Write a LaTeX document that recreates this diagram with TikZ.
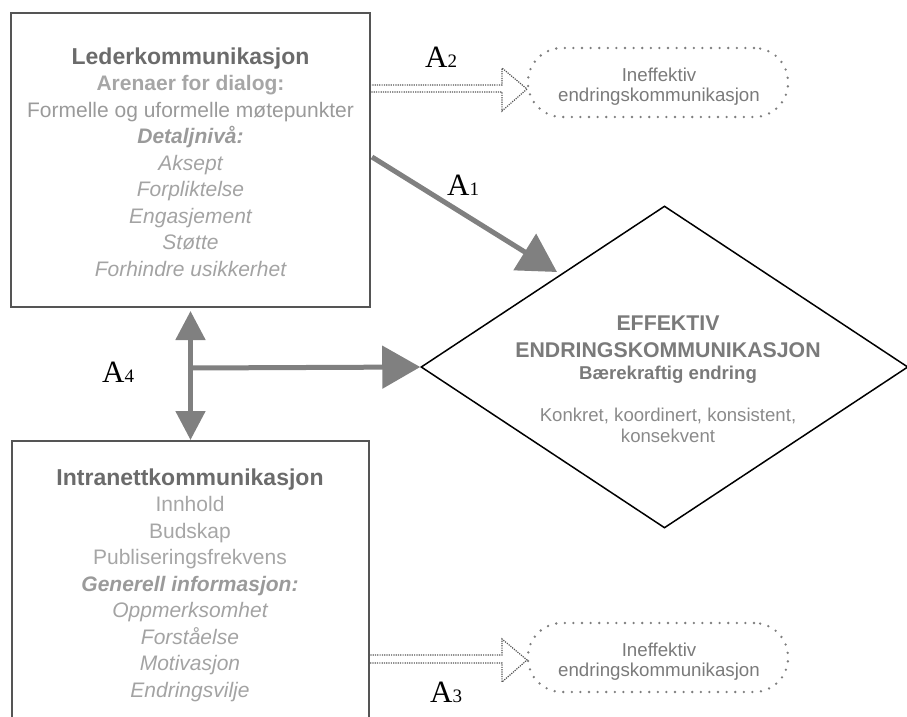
\documentclass[tikz,border=0pt]{standalone}
\usepackage{fontspec}
\setmainfont{Liberation Sans}
\newfontfamily\serifA{Liberation Serif}
\usetikzlibrary{arrows.meta,shapes.geometric}
\definecolor{ttl}{HTML}{6B6B6B}
\definecolor{sub}{HTML}{A6A6A6}
\definecolor{reg}{HTML}{9A9A9A}
\definecolor{itl}{HTML}{A3A3A3}
\definecolor{boxline}{HTML}{555555}
\definecolor{arrowgray}{HTML}{808080}
\definecolor{dotgray}{HTML}{7E7E7E}
\definecolor{effc}{HTML}{7A7A7A}
\definecolor{konc}{HTML}{8A8A8A}
\definecolor{inec}{HTML}{7A7A7A}
\begin{document}
\begin{tikzpicture}[x=1pt,y=-1pt,
  mainbox/.style={draw=boxline, line width=2pt, inner sep=0pt},
  boxtext/.style={align=center, inner sep=0pt, font=\fontsize{21}{26.5}\selectfont},
  bigarrow/.style={draw=arrowgray, line width=5pt, -{Triangle[length=38pt,width=42pt]}},
  dblarrow/.style={draw=arrowgray, line width=5pt, {Triangle[length=29pt,width=29pt]}-{Triangle[length=29pt,width=29pt]}},
  hollowarrow/.style={draw=boxline, line width=1.2pt, dash pattern=on 1.2pt off 1.1pt},
  inebox/.style={draw=dotgray, line width=2.6pt, line cap=round, dash pattern=on 0pt off 8.6pt, rounded corners=34pt, minimum width=260pt, minimum height=69pt, inner sep=0pt},
  inetext/.style={align=center, inner sep=0pt, text=inec, font=\fontsize{18.7}{20}\selectfont},
  alabel/.style={inner sep=0pt, anchor=base west, font=\serifA}
]
\useasboundingbox (0,0) rectangle (907,717);

% boxes
\node[mainbox, minimum width=359pt, minimum height=294pt] (lead) at (190.5,160) {};
\node[mainbox, minimum width=357pt, minimum height=300pt, anchor=north west] (intra) at (11,440) {};
\node[draw, line width=1.5pt, diamond, minimum width=487pt, minimum height=322pt, inner sep=0pt] (eff) at (664.5,367) {};
\node[inebox] (ine1) at (658,82.5) {};
\node[inebox] (ine2) at (658,657.5) {};

% texts (anchor=base is the last line's baseline)
\node[boxtext, anchor=base] (leadtxt) at (190.5,276) {%
\textcolor{ttl}{\fontsize{23}{26.5}\selectfont\bfseries Lederkommunikasjon}\\
\textcolor{sub}{\bfseries Arenaer for dialog:}\\
\textcolor{reg}{Formelle og uformelle møtepunkter}\\
\textcolor{reg}{\bfseries\itshape Detaljnivå:}\\
\textcolor{itl}{\itshape Aksept}\\
\textcolor{itl}{\itshape Forpliktelse}\\
\textcolor{itl}{\itshape Engasjement}\\
\textcolor{itl}{\itshape Støtte}\\
\textcolor{itl}{\itshape Forhindre usikkerhet}};

\node[boxtext, anchor=base] (intratxt) at (190,697) {%
\textcolor{ttl}{\fontsize{23}{26.5}\selectfont\bfseries Intranettkommunikasjon}\\
\textcolor{sub}{Innhold}\\
\textcolor{sub}{Budskap}\\
\textcolor{sub}{Publiseringsfrekvens}\\
\textcolor{reg}{\bfseries\itshape Generell informasjon:}\\
\textcolor{itl}{\itshape Oppmerksomhet}\\
\textcolor{itl}{\itshape Forståelse}\\
\textcolor{itl}{\itshape Motivasjon}\\
\textcolor{itl}{\itshape Endringsvilje}};

\node[align=center, inner sep=0pt, anchor=base, font=\fontsize{18.6}{20.3}\selectfont] (efftxt) at (668,442) {%
\textcolor{effc}{\fontsize{21.3}{20.3}\selectfont\bfseries EFFEKTIV}\\[6pt]
\textcolor{effc}{\fontsize{21.3}{20.3}\selectfont\bfseries ENDRINGSKOMMUNIKASJON}\\[1.7pt]
\textcolor{effc}{\bfseries Bærekraftig endring}\\[22.4pt]
\textcolor{konc}{Konkret, koordinert, konsistent,}\\
\textcolor{konc}{konsekvent}};

\node[inetext, anchor=base] (ine1txt) at (659,101.7) {Ineffektiv\\endringskommunikasjon};
\node[inetext, anchor=base] (ine2txt) at (659,676.7) {Ineffektiv\\endringskommunikasjon};

% hollow dotted arrows
\draw[hollowarrow] (370,85) -- (502,85) -- (502,68) -- (527,89) -- (502,111) -- (502,92) -- (370,92);
\draw[hollowarrow] (368,655) -- (502,655) -- (502,639) -- (527,660) -- (502,682) -- (502,663) -- (368,663);

% big arrows
\coordinate (a1s) at (372,157);
\coordinate (a1e) at (557,272);
\draw[bigarrow] (a1s) -- (a1e);
\coordinate (j) at (190,368);
\draw[bigarrow] (j) -- (eff.west);
\draw[dblarrow] ([yshift=-3pt]lead.south) -- (lead.south |- intra.north);

% labels
\node[alabel] (a2) at (425,67) {{\fontsize{31}{31}\selectfont A}{\fontsize{19}{19}\selectfont 2}};
\node[alabel] (a1) at (447,195) {{\fontsize{31}{31}\selectfont A}{\fontsize{19}{19}\selectfont 1}};
\node[alabel] (a4) at (102,382) {{\fontsize{31}{31}\selectfont A}{\fontsize{19}{19}\selectfont 4}};
\node[alabel] (a3) at (430,702) {{\fontsize{31}{31}\selectfont A}{\fontsize{19}{19}\selectfont 3}};
\end{tikzpicture}
\end{document}
